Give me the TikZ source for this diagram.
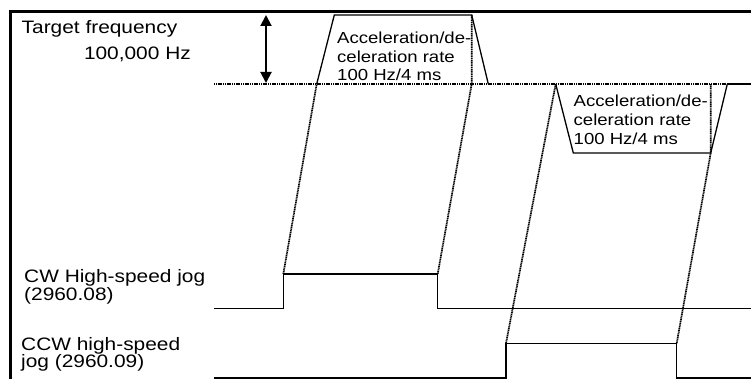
\documentclass[tikz,border=0pt]{standalone}
\usepackage{fontspec}
\setmainfont{Liberation Sans}[FakeStretch=1.16]
\usetikzlibrary{arrows.meta}
\tikzset{
  sig/.style={line width=1.3pt,black},
  dots/.style={line width=1.7pt,black,dash pattern=on 1.2pt off 0.6pt},
  lbl/.style={font=\fontsize{18}{16}\selectfont,anchor=base west,inner sep=0pt,align=left},
  rate/.style={font=\fontsize{16}{18.5}\selectfont,anchor=base west,inner sep=0pt,align=left}
}

\begin{document}
\begin{tikzpicture}[x=1pt,y=-1pt]
\useasboundingbox (0,0) rectangle (751,379);
% frame
\draw[line width=3pt] (10,379) -- (10,11.5) -- (751,11.5);
% switching points of the two jog inputs
\coordinate (cwon) at (283.3,274);
\coordinate (cwoff) at (437.7,274);
\coordinate (ccwon) at (506,343.3);
\coordinate (ccwoff) at (676.7,343.3);
% frequency profile
\draw[dots] (214,84) -- (727.3,84);
\draw[sig] (727.3,84) -- (751,84);
\draw[sig] (316.7,84) -- (334.3,15) -- (471.7,15) -- (488.3,84);
\draw[sig] (555.7,84) -- (573.3,153) -- (710.7,153) -- (727.3,84);
\draw[dots] (cwon) -- (316.7,84);
\draw[dots] (cwoff) -- (471.7,84) -- (471.7,15);
\draw[dots] (ccwon) -- (555.7,84);
\draw[dots] (ccwoff) -- (710.7,153) -- (710.7,84);
\draw[{Triangle[length=11pt,width=11pt]}-{Triangle[length=11pt,width=11pt]},line width=2pt] (266,15) -- (266,83);
% jog signals
\draw[sig] (214,308.3) -| (cwon) -- (cwoff) |- (751,308.3);
\draw[sig] (214,378) -| (ccwon) -- (ccwoff) |- (751,378);
% labels (base = last line)
\node[lbl] (tgt) at (21.5,33.3) {Target frequency};
\node[lbl,anchor=base east] (tgtval) at (191,59.3) {100,000 Hz};
\node[lbl] (cwlbl) at (24,300) {CW High-speed jog\\(2960.08)};
\node[lbl,font=\fontsize{18}{17.7}\selectfont] (ccwlbl) at (21,367.7) {CCW high-speed\\jog (2960.09)};
\node[rate] (rate1) at (337,81) {Acceleration/de-\\celeration rate\\100 Hz/4 ms};
\node[rate,font=\fontsize{16}{18.8}\selectfont] (rate2) at (573.5,144.3) {Acceleration/de-\\celeration rate\\100 Hz/4 ms};
\end{tikzpicture}
\end{document}
